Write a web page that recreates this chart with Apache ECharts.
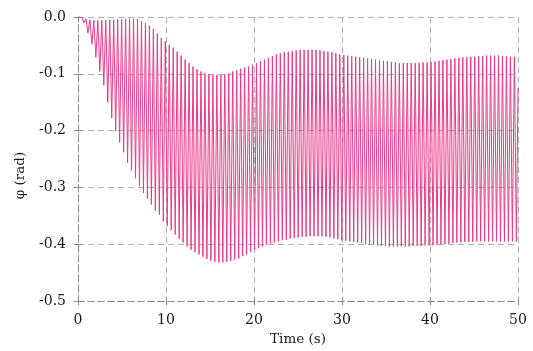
<!DOCTYPE html>
<html>
<head>
<meta charset="utf-8">
<script src="https://cdn.jsdelivr.net/npm/echarts@6/dist/echarts.min.js"></script>
<style>
html,body{margin:0;padding:0;background:#fff;}
#chart{width:533px;height:351px;}
</style>
</head>
<body>
<div id="chart"></div>
<script>
// Oscillation period (s) read from the spacing of the strokes
const period = 0.4508;
// Value at each upper turning point (one per cycle)
const peakValues = [
  0, -0.001, -0.003, -0.005, -0.006, -0.006, -0.006, -0.005, -0.005, -0.005,
  -0.004, -0.004, -0.003, -0.003, -0.003, -0.004, -0.007, -0.011, -0.015, -0.021,
  -0.029, -0.037, -0.043, -0.049, -0.054, -0.061, -0.068, -0.075, -0.081, -0.087,
  -0.092, -0.096, -0.099, -0.101, -0.102, -0.102, -0.102, -0.101, -0.099, -0.096,
  -0.094, -0.091, -0.089, -0.087, -0.084, -0.081, -0.078, -0.075, -0.072, -0.069,
  -0.066, -0.064, -0.062, -0.061, -0.060, -0.059, -0.058, -0.058, -0.058, -0.058,
  -0.058, -0.059, -0.060, -0.061, -0.062, -0.064, -0.066, -0.067, -0.068, -0.069,
  -0.070, -0.071, -0.072, -0.073, -0.074, -0.075, -0.076, -0.077, -0.078, -0.079,
  -0.080, -0.081, -0.081, -0.081, -0.081, -0.081, -0.081, -0.080, -0.080, -0.079,
  -0.078, -0.077, -0.076, -0.075, -0.074, -0.073, -0.072, -0.071, -0.071, -0.070,
  -0.070, -0.069, -0.069, -0.068, -0.068, -0.068, -0.068, -0.069, -0.069, -0.070,
  -0.070
];
// Value at each lower turning point (one per cycle)
const troughValues = [
  -0.002, -0.010, -0.028, -0.048, -0.071, -0.096, -0.120, -0.150, -0.178, -0.201,
  -0.221, -0.238, -0.257, -0.270, -0.284, -0.298, -0.310, -0.320, -0.330, -0.341,
  -0.348, -0.360, -0.368, -0.375, -0.383, -0.390, -0.397, -0.404, -0.410, -0.414,
  -0.418, -0.422, -0.426, -0.429, -0.431, -0.432, -0.432, -0.431, -0.429, -0.427,
  -0.425, -0.421, -0.418, -0.414, -0.410, -0.407, -0.404, -0.401, -0.399, -0.397,
  -0.395, -0.393, -0.392, -0.390, -0.389, -0.388, -0.387, -0.387, -0.386, -0.386,
  -0.386, -0.386, -0.387, -0.388, -0.390, -0.391, -0.393, -0.394, -0.395, -0.396,
  -0.397, -0.398, -0.400, -0.401, -0.401, -0.402, -0.403, -0.403, -0.404, -0.404,
  -0.404, -0.404, -0.404, -0.404, -0.403, -0.403, -0.403, -0.402, -0.402, -0.402,
  -0.401, -0.400, -0.400, -0.399, -0.398, -0.397, -0.397, -0.396, -0.396, -0.396,
  -0.395, -0.395, -0.395, -0.395, -0.395, -0.395, -0.395, -0.395, -0.395, -0.395,
  -0.395
];
// Last sample at the right edge
const endTime = 50;
const endValue = -0.125;

const xTicks = [0, 10, 20, 30, 40, 50];
const yTicks = [0, -0.1, -0.2, -0.3, -0.4, -0.5];

const seriesData = [];
for (let k = 0; k < peakValues.length; k++) {
  seriesData.push([k * period, peakValues[k]]);
  seriesData.push([(k + 0.5) * period, troughValues[k]]);
}
seriesData.push([endTime, endValue]);

const font = 'DejaVu Serif';
const textColor = '#1a1a1a';
const gridColor = '#b0b0b0';
const axisColor = '#8a8a8a';

const chart = echarts.init(document.getElementById('chart'), null, {renderer: 'canvas'});
const baseX = {
  type: 'value', min: xTicks[0], max: xTicks[xTicks.length - 1], interval: 10,
  axisLine: {onZero: false, lineStyle: {color: axisColor, type: [6, 4], width: 1}},
  splitLine: {show: true, lineStyle: {color: gridColor, type: [6, 4], width: 1}}
};
const baseY = {
  type: 'value', min: yTicks[yTicks.length - 1], max: yTicks[0], interval: 0.1,
  axisLine: {show: true, onZero: false, lineStyle: {color: axisColor, type: [6, 4], width: 1}},
  splitLine: {show: true, lineStyle: {color: gridColor, type: [6, 4], width: 1}}
};
chart.setOption({
  animation: false,
  backgroundColor: '#fff',
  grid: {left: 78, right: 15, top: 17, bottom: 49},
  xAxis: [
    Object.assign({}, baseX, {
      axisTick: {show: true, length: 4, lineStyle: {color: axisColor}},
      axisLabel: {margin: 12, color: textColor, fontFamily: font, fontSize: 14},
      name: 'Time (s)', nameLocation: 'middle', nameGap: 31,
      nameTextStyle: {color: textColor, fontFamily: font, fontSize: 13.5}
    }),
    Object.assign({}, baseX, {
      position: 'bottom',
      axisTick: {show: true, inside: true, length: 4, lineStyle: {color: axisColor}},
      axisLabel: {show: false}, splitLine: {show: false}
    })
  ],
  yAxis: [
    Object.assign({}, baseY, {
      axisTick: {show: true, length: 4, lineStyle: {color: axisColor}},
      axisLabel: {margin: 12, color: textColor, fontFamily: font, fontSize: 14,
        formatter: v => v.toFixed(1)}
    }),
    Object.assign({}, baseY, {
      position: 'left',
      axisTick: {show: true, inside: true, length: 4, lineStyle: {color: axisColor}},
      axisLabel: {show: false}, splitLine: {show: false}
    })
  ],
  graphic: [{
    type: 'text', left: 13, top: 'middle', rotation: Math.PI / 2,
    style: {text: 'φ (rad)', fill: textColor, font: '13.5px "DejaVu Serif"',
      textAlign: 'center', textVerticalAlign: 'middle'}
  }],
  series: [{
    type: 'line', xAxisIndex: 0, yAxisIndex: 0,
    data: seriesData, showSymbol: false, sampling: false,
    lineStyle: {color: '#eb3a88', width: 1},
    z: 3
  }]
});
</script>
</body>
</html>
